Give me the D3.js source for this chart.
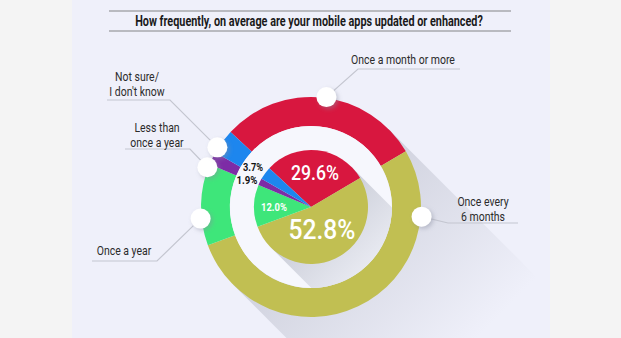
<!DOCTYPE html>
<html><head><meta charset="utf-8">
<script src="https://cdn.jsdelivr.net/npm/d3@7"></script>
<style>
html,body{margin:0;padding:0;background:#f4f4f4;}
svg{display:block;}
text{font-family:Roboto,"Noto Sans",sans-serif;}
</style></head><body>
<svg id="chart" width="621" height="338"></svg>
<script>
const title = "How frequently, on average are your mobile apps updated or enhanced?";
const categories = ["Once a month or more","Once every 6 months","Once a year","Less than once a year","Not sure/ I don't know"];
const values = [29.6, 52.8, 12.0, 1.9, 3.7];
const valueLabels = ["29.6%","52.8%","12.0%","1.9%","3.7%"];
const colors = ["#d8173f","#c1bf52","#3ee67a","#7d2ca6","#1d86ee"];

const svg = d3.select("#chart");
const W = 621, H = 338;
const cx = 311, cy = 207;
const rOut = 110, rIn = 81, rPie = 57, rPlate = 81;
const toRad = d => d * Math.PI / 180;
const startDeg = -47;

const defs = svg.append("defs");
svg.append("rect").attr("width", W).attr("height", H).attr("fill", "#f4f4f4");
svg.append("rect").attr("x", 72).attr("y", 0).attr("width", 478).attr("height", H).attr("fill", "#eff0fa");
defs.append("clipPath").attr("id","panel").append("rect").attr("x",72).attr("y",0).attr("width",478).attr("height",H);
defs.append("clipPath").attr("id","plate").append("circle").attr("cx",cx).attr("cy",cy).attr("r",rPlate);
const f = defs.append("filter").attr("id","ds").attr("x","-50%").attr("y","-50%").attr("width","200%").attr("height","200%");
f.append("feDropShadow").attr("dx",2).attr("dy",2).attr("stdDeviation",2).attr("flood-color","#8a8ea0").attr("flood-opacity",0.45);

function ctext(g, x, y, str, size, weight, fill, scale) {
  return g.append("text").attr("text-anchor","middle").attr("font-size",size)
    .attr("font-weight",weight).attr("fill",fill).text(str)
    .attr("transform", `translate(${x},${y}) scale(${scale},1)`);
}
function fitText(g, x, y, str, size, weight, fill, width) {
  const t = ctext(g, x, y, str, size, weight, fill, 1);
  const w = t.node().getComputedTextLength();
  t.attr("transform", `translate(${x},${y}) scale(${width / w},1)`);
  return t;
}

function longShadow(g, x, y, r, L, id, c0, op) {
  const grad = defs.append("linearGradient").attr("id", id).attr("gradientUnits","userSpaceOnUse")
    .attr("x1", x).attr("y1", y).attr("x2", x + L/Math.SQRT2).attr("y2", y + L/Math.SQRT2);
  grad.append("stop").attr("offset", 0).attr("stop-color", c0).attr("stop-opacity", op);
  grad.append("stop").attr("offset", 1).attr("stop-color", c0).attr("stop-opacity", 0);
  const n = [-1/Math.SQRT2, 1/Math.SQRT2], d = [1/Math.SQRT2, 1/Math.SQRT2];
  const pts = [
    [x + r*n[0], y + r*n[1]],
    [x + r*n[0] + L*d[0], y + r*n[1] + L*d[1]],
    [x - r*n[0] + L*d[0], y - r*n[1] + L*d[1]],
    [x - r*n[0], y - r*n[1]]
  ];
  g.append("path").attr("d", "M" + pts.map(p => p.join(",")).join("L") + "Z").attr("fill", `url(#${id})`);
}

// outer long shadow
const shG = svg.append("g").attr("clip-path","url(#panel)");
longShadow(shG, cx, cy, rOut, 210, "shOuter", "#cfd1dd", 1);

const pie = d3.pie().sort(null).value(d => d).startAngle(toRad(startDeg)).endAngle(toRad(startDeg + 360));
const arcs = pie(values);

// outer ring
const ring = d3.arc().innerRadius(rIn).outerRadius(rOut);
svg.append("g").attr("transform", `translate(${cx},${cy})`)
  .selectAll("path").data(arcs).join("path")
  .attr("d", ring).attr("fill", (d,i) => colors[i]);

// plate
svg.append("circle").attr("cx",cx).attr("cy",cy).attr("r",rPlate).attr("fill","#f6f7fd");
const plG = svg.append("g").attr("clip-path","url(#plate)");
longShadow(plG, cx, cy, rPie, 120, "shPie", "#c9ccd7", 1);

// inner pie
const pieArc = d3.arc().innerRadius(0).outerRadius(rPie);
svg.append("g").attr("transform", `translate(${cx},${cy})`)
  .selectAll("path").data(arcs).join("path")
  .attr("d", pieArc).attr("fill", (d,i) => colors[i]);

// value labels
const labelStyle = [
  {dx: 4, dy: -27, size: 21, fill: "#fff", w: 48},
  {dx: 11, dy: 32, size: 28, fill: "#fff", w: 67},
  {dx: -37, dy: 4, size: 11, fill: "#fff", w: 26},
  {dx: -64, dy: -23.5, size: 10, fill: "#111", w: 21},
  {dx: -58, dy: -36, size: 10, fill: "#111", w: 20}
];
const vg = svg.append("g");
valueLabels.forEach((v, i) => {
  const s = labelStyle[i];
  fitText(vg, cx + s.dx, cy + s.dy, v, s.size, i < 2 ? 500 : "bold", s.fill, s.w);
});

// callouts
const callouts = [
  {ang: 8, elbow: [358, 69], end: [460, 69], tx: 403, ty: 64, lines: ["Once a month or more"]},
  {ang: 95, elbow: [448, 223], end: [518, 223], tx: 483, ty: 207, lines: ["Once every","6 months"]},
  {ang: -96, elbow: [157, 261], end: [92, 261], tx: 124, ty: 255, lines: ["Once a year"]},
  {ang: -69, elbow: [190, 149], end: [125, 149], tx: 157, ty: 133, lines: ["Less than","once a year"]},
  {ang: -57.5, elbow: [170, 100], end: [107, 100], tx: 137, ty: 82, lines: ["Not sure/","I don't know"]}
];
const cg = svg.append("g");
const LBL = 12, LH = 14.2;
const probe = ctext(cg, 0, -50, "Once a month or more", LBL, 400, "#2b2b2b", 1);
const lblScale = 104 / probe.node().getComputedTextLength();
probe.remove();
callouts.forEach((c, i) => {
  const a = toRad(c.ang);
  const px = cx + 111 * Math.sin(a), py = cy - 111 * Math.cos(a);
  cg.append("polyline").attr("points", `${px},${py} ${c.elbow.join(",")} ${c.end.join(",")}`)
    .attr("fill","none").attr("stroke","#c4c6d0").attr("stroke-width",1.2);
  cg.append("circle").attr("cx", px).attr("cy", py).attr("r", 10).attr("fill", "#ffffff").attr("filter","url(#ds)");
  const y0 = c.lines.length > 1 ? c.ty - 0.6 : c.ty;
  c.lines.forEach((l, j) => {
    ctext(cg, c.tx, y0 + j * LH, l, LBL, 400, "#2b2b2b", lblScale);
  });
});

// title
svg.append("line").attr("x1",109).attr("x2",511).attr("y1",11).attr("y2",11).attr("stroke","#a7a8ad").attr("stroke-width",1.5);
svg.append("line").attr("x1",109).attr("x2",511).attr("y1",31).attr("y2",31).attr("stroke","#a7a8ad").attr("stroke-width",1.5);
fitText(svg, 309, 26, title, 14, "bold", "#1a1a1a", 348);
</script>
</body></html>
